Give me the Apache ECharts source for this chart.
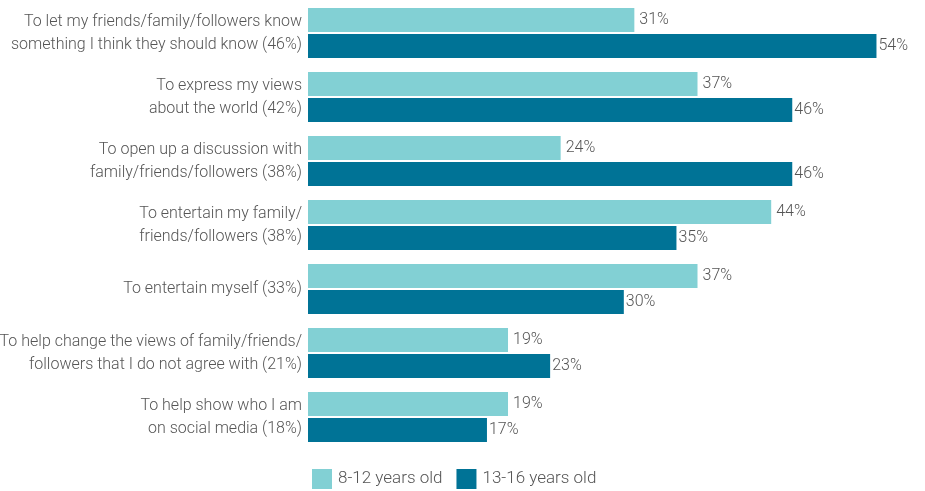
<!DOCTYPE html>
<html>
<head>
<meta charset="utf-8">
<script src="https://cdn.jsdelivr.net/npm/echarts@6/dist/echarts.min.js"></script>
<style>html,body{margin:0;padding:0;background:#fff}#chart{width:925px;height:491px}</style>
</head>
<body>
<div id="chart"></div>
<script>
// Reasons for sharing, with overall share in brackets
const categories = [
  "To let my friends/family/followers know\nsomething I think they should know (46%)",
  "To express my views\nabout the world (42%)",
  "To open up a discussion with\nfamily/friends/followers (38%)",
  "To entertain my family/\nfriends/followers (38%)",
  "To entertain myself (33%)",
  "To help change the views of family/friends/\nfollowers that I do not agree with (21%)",
  "To help show who I am\non social media (18%)"
];
const seriesNames = ["8-12 years old", "13-16 years old"];
const younger = [31, 37, 24, 44, 37, 19, 19];
const older = [54, 46, 46, 35, 30, 23, 17];

const FONT = 'Roboto, "Liberation Sans", sans-serif';
const TEXT = '#555555';

const chart = echarts.init(document.getElementById('chart'));
chart.setOption({
  animation: false,
  textStyle: { fontFamily: FONT, fontWeight: 300 },
  grid: { left: 308, right: 38, top: 1, bottom: 42, containLabel: false, outerBoundsMode: 'none' },
  legend: {
    data: seriesNames,
    left: 312,
    top: 469,
    padding: 0,
    itemWidth: 20,
    itemHeight: 20,
    itemGap: 14,
    icon: 'rect',
    textStyle: { fontFamily: FONT, fontWeight: 300, fontSize: 17, color: TEXT, padding: [0, 0, 0, 1] }
  },
  xAxis: {
    type: 'value', min: 0, max: 55,
    show: false
  },
  yAxis: {
    type: 'category', data: categories, inverse: true,
    axisLine: { show: false }, axisTick: { show: false },
    axisLabel: { fontFamily: FONT, fontWeight: 300, fontSize: 16, color: TEXT, lineHeight: 23, margin: 6, align: 'right' }
  },
  series: [
    {
      name: seriesNames[0], type: 'bar', data: younger,
      barWidth: 24, barGap: '8.3%',
      itemStyle: { color: '#82d0d4' },
      label: { show: true, position: 'right', distance: 5, formatter: '{c}%', fontFamily: FONT, fontWeight: 300, fontSize: 16, color: TEXT }
    },
    {
      name: seriesNames[1], type: 'bar', data: older,
      barWidth: 24,
      itemStyle: { color: '#007396' },
      label: { show: true, position: 'right', distance: 2, formatter: '{c}%', fontFamily: FONT, fontWeight: 300, fontSize: 16, color: TEXT }
    }
  ]
});
</script>
</body>
</html>
